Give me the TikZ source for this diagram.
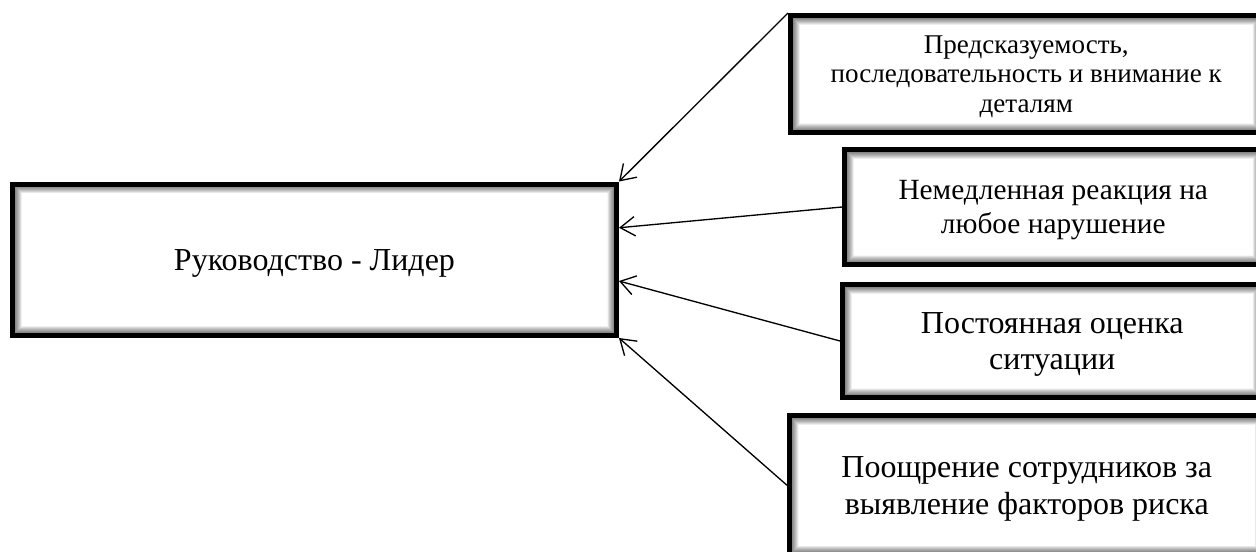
\documentclass[tikz,border=0pt]{standalone}
\usepackage{fontspec}
\setmainfont{Liberation Serif}
\usetikzlibrary{arrows.meta}

\begin{document}
\begin{tikzpicture}[x=0.75pt,y=-0.75pt,
    box/.style={draw,line width=3.75pt,rectangle,inner sep=0pt,align=center,text depth=0pt,
      path picture={
        \foreach \w in {4.5,5,...,14}
          \draw[line width=\w pt,black,opacity=0.03]
            (path picture bounding box.south west) rectangle (path picture bounding box.north east);}},
    link/.style={line width=1pt,-{Straight Barb[length=11pt,width=14.5pt]}}]
      \useasboundingbox (0,0) rectangle (1256,551);
      \clip (0,0) rectangle (1256,551);
      \draw
        (314.5,259.75) node[box,minimum width=453pt,minimum height=113.6pt,
          font=\fontsize{24}{27.6}\selectfont] (lider){Руководство - Лидер}
        (1026.25,74) node[box,minimum width=353.6pt,minimum height=87.75pt,
          font=\fontsize{20.3}{22.2}\selectfont] (predsk){Предсказуемость,\\последовательность и внимание к\\деталям}
        (1053.25,207) node[box,minimum width=313.1pt,minimum height=86.25pt,
          font=\fontsize{22}{25}\selectfont] (reakc){Немедленная реакция на\\любое нарушение}
        (1052.25,341) node[box,minimum width=314.6pt,minimum height=84.75pt,
          font=\fontsize{24}{27.6}\selectfont] (ocenka){Постоянная оценка\\ситуации}
        (1026.75,485.25) node[box,minimum width=355.9pt,minimum height=104.6pt,
          font=\fontsize{24}{27.6}\selectfont] (pooshr){Поощрение сотрудников за\\выявление факторов риска};
      \begin{scope}[link]
        \draw (predsk.north west) to (lider.north east);
        \draw (reakc.west) to (lider.6.6);
        \draw (ocenka.west) to (lider.-4.2);
        \draw (pooshr.west) to (lider.south east);
      \end{scope}
    \end{tikzpicture}
\end{document}
